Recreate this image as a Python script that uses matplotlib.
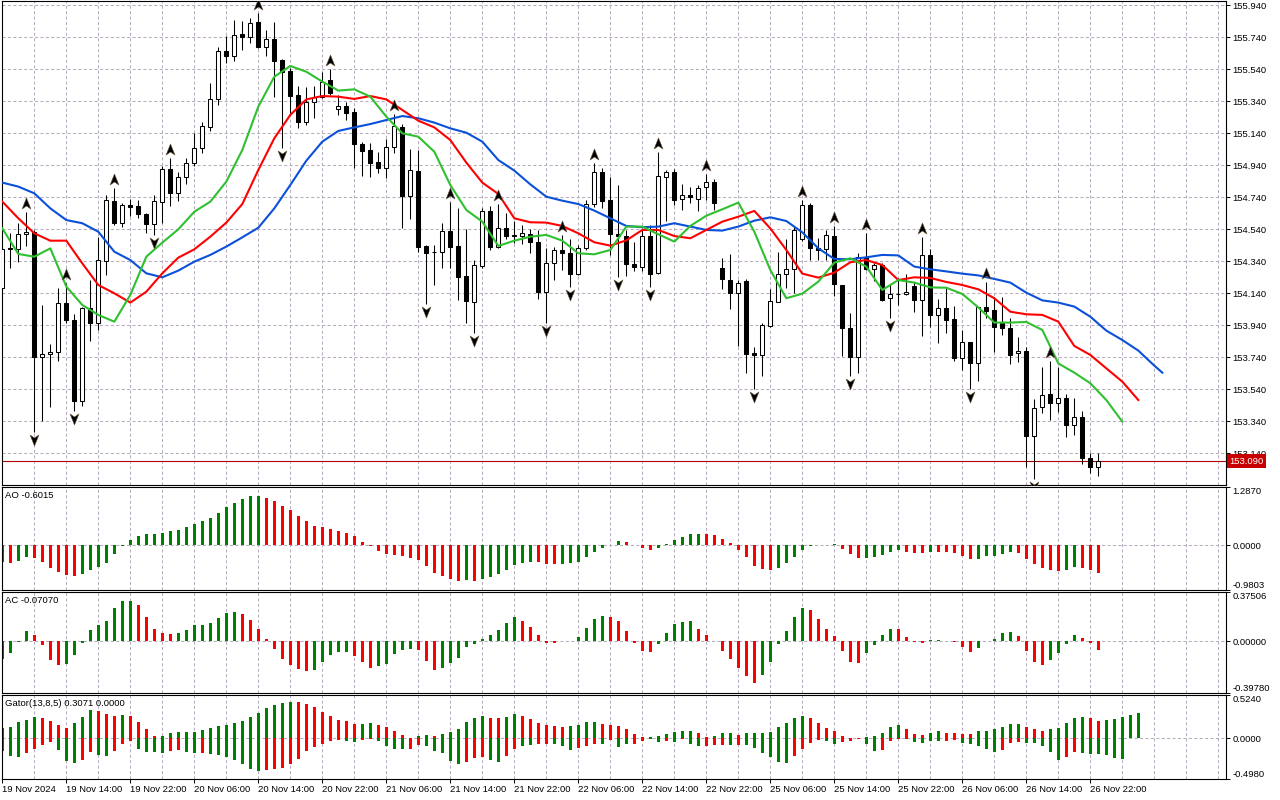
import numpy as np
import matplotlib
matplotlib.use("Agg")
import matplotlib.pyplot as plt
from matplotlib.path import Path
from matplotlib.transforms import blended_transform_factory

# hourly USDJPY-like candles, 19 Nov 06:00 .. 26 Nov 23:00
opens = [154.171, 154.423, 154.415, 154.509, 154.521, 153.744, 153.759, 153.771, 154.077, 153.973,
         153.469, 154.046, 153.952, 154.344, 154.717, 154.582, 154.692, 154.684, 154.634, 154.571,
         154.713, 154.915, 154.769, 154.865, 154.952, 155.046, 155.182, 155.352, 155.655, 155.625,
         155.761, 155.744, 155.834, 155.682, 155.728, 155.598, 155.530, 155.380, 155.213, 155.334,
         155.365, 155.473, 155.290, 155.311, 155.271, 155.073, 155.036, 154.959, 154.921, 155.052,
         155.182, 154.750, 154.905, 154.436, 154.396, 154.396, 154.530, 154.436, 154.248, 154.088,
         154.313, 154.655, 154.432, 154.546, 154.500, 154.496, 154.511, 154.459, 154.150, 154.327,
         154.411, 154.390, 154.258, 154.421, 154.698, 154.896, 154.723, 154.509, 154.498, 154.323,
         154.307, 154.498, 154.265, 154.869, 154.900, 154.728, 154.755, 154.730, 154.802, 154.834,
         154.296, 154.223, 154.144, 154.217, 153.765, 153.755, 153.936, 154.088, 154.261, 154.290,
         154.477, 154.692, 154.421, 154.415, 154.498, 154.192, 153.921, 153.744, 154.369, 154.290,
         154.317, 154.108, 154.133, 154.133, 154.186, 154.098, 154.377, 154.005, 154.046, 153.977,
         153.734, 153.834, 153.707, 154.052, 154.036, 153.963, 153.925, 153.765, 153.780, 153.250,
         153.427, 153.509, 153.452, 153.484, 153.317, 153.365, 153.109, 153.057]
highs = [154.432, 154.515, 154.577, 154.650, 154.536, 154.067, 153.823, 154.171, 154.202, 154.011,
         154.052, 154.223, 154.494, 154.755, 154.796, 154.707, 154.728, 154.723, 154.644, 154.755,
         154.936, 154.988, 154.900, 154.984, 155.140, 155.213, 155.452, 155.682, 155.750, 155.848,
         155.842, 155.859, 155.890, 155.786, 155.834, 155.603, 155.546, 155.436, 155.427, 155.436,
         155.525, 155.540, 155.380, 155.338, 155.296, 155.088, 155.077, 155.025, 155.102, 155.261,
         155.198, 155.042, 155.036, 154.442, 154.442, 154.582, 154.713, 154.671, 154.540, 154.348,
         154.671, 154.686, 154.698, 154.640, 154.594, 154.565, 154.540, 154.536, 154.421, 154.432,
         154.505, 154.477, 154.442, 154.723, 154.957, 154.921, 154.865, 154.817, 154.536, 154.463,
         154.536, 154.567, 155.025, 154.911, 154.915, 154.823, 154.802, 154.817, 154.886, 154.852,
         154.359, 154.386, 154.223, 154.227, 153.803, 153.957, 154.165, 154.396, 154.477, 154.557,
         154.723, 154.702, 154.484, 154.536, 154.561, 154.192, 154.015, 154.390, 154.519, 154.327,
         154.332, 154.192, 154.234, 154.261, 154.213, 154.490, 154.415, 154.102, 154.171, 154.061,
         153.911, 153.838, 154.057, 154.213, 154.119, 154.119, 153.984, 153.869, 153.807, 153.477,
         153.682, 153.719, 153.682, 153.509, 153.484, 153.407, 153.140, 153.144]
lows = [154.161, 154.296, 154.338, 154.436, 153.275, 153.344, 153.432, 153.719, 153.957, 153.407,
        153.436, 153.844, 153.911, 154.255, 154.567, 154.557, 154.623, 154.609, 154.515, 154.505,
        154.582, 154.688, 154.719, 154.821, 154.938, 155.015, 155.157, 155.317, 155.577, 155.594,
        155.661, 155.707, 155.675, 155.625, 155.369, 155.046, 155.255, 155.175, 155.192, 155.234,
        155.359, 155.380, 155.255, 155.223, 154.921, 154.873, 154.869, 154.890, 154.859, 155.019,
        154.550, 154.605, 154.400, 154.073, 154.192, 154.300, 154.296, 154.098, 153.957, 153.890,
        154.296, 154.411, 154.421, 154.477, 154.452, 154.446, 154.390, 154.102, 153.952, 154.223,
        154.286, 154.177, 154.255, 154.411, 154.682, 154.671, 154.380, 154.244, 154.250, 154.282,
        154.282, 154.182, 154.261, 154.594, 154.692, 154.661, 154.702, 154.657, 154.723, 154.661,
        154.165, 154.040, 153.811, 153.644, 153.540, 153.623, 153.932, 154.084, 154.171, 154.144,
        154.469, 154.348, 154.348, 154.348, 154.123, 153.748, 153.623, 153.640, 154.286, 154.219,
        154.094, 153.988, 154.067, 154.129, 154.025, 153.875, 153.932, 153.832, 153.894, 153.719,
        153.661, 153.540, 153.594, 153.984, 153.775, 153.880, 153.698, 153.713, 153.057, 152.977,
        153.394, 153.348, 153.400, 153.244, 153.255, 153.073, 153.019, 152.998]
closes = [154.415, 154.419, 154.509, 154.521, 153.744, 153.759, 153.773, 154.077, 153.973, 153.469,
          154.046, 153.957, 154.348, 154.723, 154.582, 154.692, 154.677, 154.634, 154.571, 154.717,
          154.915, 154.765, 154.865, 154.952, 155.046, 155.186, 155.352, 155.655, 155.625, 155.755,
          155.744, 155.827, 155.682, 155.728, 155.594, 155.525, 155.375, 155.213, 155.334, 155.365,
          155.463, 155.394, 155.313, 155.269, 155.071, 155.032, 154.957, 154.921, 155.052, 155.186,
          154.750, 154.911, 154.432, 154.394, 154.398, 154.530, 154.432, 154.244, 154.094, 154.317,
          154.655, 154.432, 154.546, 154.500, 154.502, 154.515, 154.459, 154.150, 154.327, 154.411,
          154.390, 154.258, 154.421, 154.698, 154.896, 154.719, 154.509, 154.498, 154.321, 154.307,
          154.498, 154.261, 154.873, 154.896, 154.723, 154.755, 154.740, 154.796, 154.834, 154.702,
          154.227, 154.144, 154.202, 153.761, 153.755, 153.940, 154.092, 154.261, 154.290, 154.536,
          154.692, 154.421, 154.411, 154.505, 154.196, 153.921, 153.744, 154.369, 154.290, 154.317,
          154.098, 154.133, 154.135, 154.150, 154.098, 154.377, 154.005, 154.046, 153.973, 153.734,
          153.834, 153.707, 154.052, 154.030, 153.932, 153.921, 153.755, 153.780, 153.250, 153.421,
          153.505, 153.457, 153.484, 153.317, 153.365, 153.109, 153.053, 153.090]
bid = 153.090

fractal_up = [3, 8, 14, 21, 32, 41, 49, 56, 62, 70, 74, 82, 88, 100, 104, 108, 115, 123, 131]
fractal_down = [4, 9, 19, 35, 53, 59, 68, 71, 77, 81, 94, 106, 111, 121, 129]

# alligator, read every second bar (jaw also at its last bar 145)
jaw_bars = list(range(0, 145, 2)) + [145]
jaw = [154.832, 154.807, 154.765, 154.671, 154.598, 154.578, 154.525, 154.400, 154.348, 154.265,
       154.240, 154.282, 154.338, 154.380, 154.432, 154.490, 154.550, 154.671, 154.817, 154.969,
       155.088, 155.155, 155.177, 155.198, 155.223, 155.248, 155.234, 155.207, 155.171, 155.144,
       155.088, 154.973, 154.907, 154.821, 154.744, 154.719, 154.698, 154.657, 154.609, 154.561,
       154.553, 154.557, 154.578, 154.557, 154.536, 154.532, 154.557, 154.594, 154.615, 154.592,
       154.521, 154.421, 154.355, 154.353, 154.365, 154.380, 154.377, 154.307, 154.290, 154.277,
       154.263, 154.252, 154.230, 154.207, 154.144, 154.096, 154.082, 154.057, 153.994, 153.907,
       153.848, 153.782, 153.688, 153.644]
teeth_bars = list(range(0, 143, 2))
teeth = [154.713, 154.609, 154.515, 154.469, 154.469, 154.327, 154.192, 154.140, 154.082, 154.150,
         154.265, 154.363, 154.415, 154.494, 154.582, 154.698, 154.911, 155.109, 155.255, 155.352,
         155.373, 155.369, 155.355, 155.373, 155.352, 155.286, 155.219, 155.177, 155.098, 154.957,
         154.832, 154.761, 154.609, 154.584, 154.582, 154.561, 154.515, 154.459, 154.438, 154.471,
         154.536, 154.536, 154.498, 154.484, 154.536, 154.588, 154.619, 154.655, 154.546, 154.411,
         154.263, 154.238, 154.269, 154.334, 154.348, 154.317, 154.223, 154.240, 154.236, 154.211,
         154.192, 154.165, 154.109, 154.025, 154.009, 154.005, 153.963, 153.811, 153.755, 153.671,
         153.588, 153.473]
lips_bars = list(range(0, 141, 2))
lips = [154.546, 154.386, 154.369, 154.421, 154.182, 154.067, 154.005, 153.963, 154.130, 154.369,
        154.457, 154.540, 154.650, 154.713, 154.838, 155.036, 155.307, 155.494, 155.561, 155.525,
        155.463, 155.407, 155.415, 155.369, 155.244, 155.140, 155.119, 155.025, 154.817, 154.661,
        154.588, 154.436, 154.469, 154.494, 154.505, 154.469, 154.390, 154.384, 154.411, 154.557,
        154.557, 154.509, 154.463, 154.561, 154.625, 154.665, 154.707, 154.525, 154.286, 154.109,
        154.138, 154.213, 154.332, 154.359, 154.307, 154.161, 154.223, 154.207, 154.177, 154.175,
        154.136, 154.052, 153.957, 153.957, 153.961, 153.911, 153.702, 153.644, 153.578, 153.473,
        153.338]

ao = [-0.36, -0.38, -0.34, -0.25, -0.27, -0.36, -0.49, -0.58, -0.65, -0.67,
      -0.62, -0.53, -0.47, -0.38, -0.19, -0.01, 0.12, 0.21, 0.25, 0.255,
      0.28, 0.32, 0.34, 0.40, 0.48, 0.54, 0.60, 0.71, 0.84, 0.93,
      1.02, 1.09, 1.095, 1.04, 0.98, 0.87, 0.78, 0.65, 0.54, 0.43,
      0.40, 0.36, 0.32, 0.28, 0.21, 0.08, -0.02, -0.12, -0.18, -0.21,
      -0.23, -0.27, -0.32, -0.455, -0.602, -0.668, -0.742, -0.778, -0.764, -0.778,
      -0.742, -0.698, -0.624, -0.543, -0.433, -0.382, -0.367, -0.372, -0.404, -0.41,
      -0.405, -0.382, -0.36, -0.25, -0.147, -0.059, 0.02, 0.095, 0.073, 0.0,
      -0.059, -0.103, -0.059, 0.03, 0.117, 0.19, 0.25, 0.252, 0.248, 0.22,
      0.14, 0.059, -0.103, -0.25, -0.455, -0.521, -0.543, -0.492, -0.396, -0.25,
      -0.103, -0.005, 0.003, 0.02, 0.025, -0.088, -0.198, -0.272, -0.268, -0.25,
      -0.206, -0.14, -0.095, -0.14, -0.162, -0.165, -0.14, -0.145, -0.15, -0.162,
      -0.235, -0.294, -0.29, -0.242, -0.235, -0.184, -0.154, -0.162, -0.294, -0.404,
      -0.499, -0.536, -0.558, -0.536, -0.485, -0.499, -0.536, -0.6015]
ao_dir = ("dduud" + "d" * 5 + "u" * 23 + "d" * 20 +
          "d" * 5 + "u" + "d" + "u" * 7 + "d" * 3 + "u" * 8 + "d" * 4 + "u" * 6 + "d" * 9 + "u" * 8 +
          "ddd" + "u" * 5 + "ddd" + "u" + "d" * 5 + "u" * 5 + "d" * 6 + "uu" + "ddd")

ac = [-0.138, -0.094, -0.008, 0.079, 0.048, -0.033, -0.148, -0.186, -0.176, -0.11,
      -0.015, 0.087, 0.12, 0.156, 0.255, 0.309, 0.31, 0.278, 0.181, 0.094,
      0.059, 0.057, 0.064, 0.087, 0.12, 0.122, 0.135, 0.173, 0.212, 0.219,
      0.209, 0.163, 0.094, 0.018, -0.059, -0.135, -0.181, -0.212, -0.227, -0.219,
      -0.158, -0.11, -0.082, -0.081, -0.112, -0.163, -0.204, -0.194, -0.179, -0.102,
      -0.071, -0.059, -0.071, -0.156, -0.224, -0.209, -0.171, -0.133, -0.046, -0.026,
      0.015, 0.048, 0.087, 0.138, 0.184, 0.153, 0.11, 0.048, -0.013, -0.018,
      -0.002, 0.0, 0.033, 0.1, 0.171, 0.194, 0.184, 0.156, 0.079, -0.015,
      -0.079, -0.084, -0.026, 0.064, 0.133, 0.148, 0.153, 0.094, 0.048, -0.003,
      -0.079, -0.138, -0.209, -0.27, -0.324, -0.263, -0.163, -0.026, 0.079, 0.186,
      0.253, 0.24, 0.171, 0.094, 0.038, -0.079, -0.163, -0.165, -0.094, -0.033,
      0.048, 0.094, 0.092, 0.033, -0.01, -0.015, 0.008, 0.009, 0.002, -0.01,
      -0.048, -0.087, -0.054, -0.002, 0.018, 0.064, 0.071, 0.041, -0.079, -0.163,
      -0.186, -0.148, -0.094, -0.026, 0.046, 0.023, -0.018, -0.0707]
ac_dir = ("u" * 4 + "d" * 4 + "u" * 9 + "d" * 5 + "u" * 8 + "d" * 9 + "u" * 5 + "d" * 3 + "u" * 5 + "d" +
          "dd" + "u" * 10 + "d" * 5 + "u" * 6 + "d" * 6 + "u" * 5 + "d" * 8 + "u" * 6 + "d" * 4 +
          "ddd" + "u" * 4 + "d" * 4 + "uu" + "d" * 4 + "u" * 5 + "d" * 4 + "u" * 4 + "ddd")

gator_up = [0.122, 0.138, 0.191, 0.223, 0.260, 0.247, 0.211, 0.162, 0.126, 0.187,
            0.260, 0.345, 0.333, 0.296, 0.272, 0.284, 0.272, 0.199, 0.114, 0.028,
            0.030, 0.065, 0.077, 0.078, 0.079, 0.101, 0.126, 0.150, 0.162, 0.187,
            0.211, 0.260, 0.308, 0.369, 0.406, 0.430, 0.442, 0.440, 0.418, 0.381,
            0.320, 0.272, 0.223, 0.211, 0.174, 0.176, 0.178, 0.162, 0.138, 0.089,
            0.041, 0.004, 0.028, 0.041, 0.028, 0.053, 0.077, 0.114, 0.199, 0.247,
            0.272, 0.247, 0.245, 0.251, 0.288, 0.264, 0.227, 0.178, 0.154, 0.142,
            0.140, 0.143, 0.154, 0.191, 0.192, 0.166, 0.154, 0.142, 0.105, 0.053,
            0.008, 0.015, 0.020, 0.045, 0.069, 0.085, 0.087, 0.061, 0.010, 0.028,
            0.057, 0.058, 0.041, 0.057, 0.058, 0.065, 0.075, 0.130, 0.178, 0.239,
            0.264, 0.239, 0.178, 0.118, 0.081, 0.028, 0.006, 0.002, 0.008, 0.020,
            0.065, 0.130, 0.154, 0.105, 0.053, 0.032, 0.065, 0.081, 0.065, 0.063,
            0.053, 0.051, 0.081, 0.083, 0.105, 0.130, 0.166, 0.168, 0.130, 0.105,
            0.081, 0.105, 0.118, 0.178, 0.239, 0.251, 0.239, 0.203, 0.215, 0.227,
            0.251, 0.276, 0.3071]
gator_up_dir = ("u" * 5 + "d" * 4 + "u" * 3 + "d" * 3 + "u" + "d" * 4 + "u" * 17 + "d" * 8 + "u" * 2 +
                "d" * 5 + "u" * 2 + "d" + "u" * 6 + "d" * 2 + "u" * 2 + "d" * 6 + "u" * 4 + "d" * 6 +
                "u" * 6 + "d" * 2 + "u" * 3 + "d" + "u" * 8 + "d" * 7 + "u" * 5 + "d" * 3 + "u" * 2 +
                "d" * 4 + "u" * 6 + "d" * 3 + "u" * 5 + "d" * 2 + "u" * 5)
gator_down = [-0.162, -0.215, -0.235, -0.187, -0.130, -0.081, -0.045, -0.142, -0.276, -0.308,
              -0.264, -0.166, -0.203, -0.223, -0.154, -0.069, -0.032, -0.130, -0.166, -0.168,
              -0.178, -0.154, -0.142, -0.166, -0.187, -0.187, -0.188, -0.211, -0.235, -0.272,
              -0.320, -0.381, -0.406, -0.393, -0.381, -0.369, -0.320, -0.260, -0.162, -0.114,
              -0.077, -0.041, -0.028, -0.041, -0.053, -0.028, -0.012, -0.041, -0.101, -0.130,
              -0.132, -0.130, -0.081, -0.101, -0.154, -0.178, -0.276, -0.320, -0.288, -0.239,
              -0.227, -0.264, -0.288, -0.219, -0.134, -0.097, -0.085, -0.077, -0.073, -0.075,
              -0.097, -0.146, -0.122, -0.097, -0.073, -0.075, -0.020, -0.109, -0.073, -0.073,
              -0.036, -0.010, -0.049, -0.032, -0.049, -0.010, -0.073, -0.097, -0.095, -0.085,
              -0.083, -0.086, -0.084, -0.090, -0.122, -0.182, -0.231, -0.292, -0.304, -0.223,
              -0.134, -0.065, -0.024, -0.032, -0.073, -0.045, -0.032, -0.016, -0.073, -0.158,
              -0.142, -0.032, -0.012, -0.010, -0.045, -0.061, -0.032, -0.032, -0.032, -0.024,
              -0.061, -0.073, -0.097, -0.134, -0.170, -0.142, -0.061, -0.049, -0.061, -0.063,
              -0.097, -0.170, -0.264, -0.231, -0.170, -0.182, -0.195, -0.196, -0.211, -0.243,
              -0.255]
gator_down_dir = ("u" * 3 + "d" * 4 + "u" * 3 + "d" * 2 + "u" * 2 + "d" * 3 + "u" * 4 + "d" * 2 + "u" * 2 +
                  "d" + "u" * 7 + "d" * 10 + "u" * 2 + "d" * 2 + "u" * 4 + "d" * 2 + "u" * 5 + "d" * 3 +
                  "u" * 2 + "d" * 2 + "u" * 2 + "d" * 2 + "u" * 3 + "d" * 3 + "u" + "d" + "u" * 2 + "d" * 2 +
                  "u" * 2 + "d" + "u" + "d" + "u" * 2 + "d" * 3 + "u" + "d" + "u" * 6 + "d" * 4 + "u" * 2 +
                  "d" * 3 + "u" * 2 + "d" * 4 + "u" * 4 + "d" * 2 + "u" * 5 + "d" * 3 + "u" * 5 + "d" * 2 +
                  "u" * 6)

price_ticks = [153.14, 153.34, 153.54, 153.74, 153.94, 154.14, 154.34, 154.54,
               154.74, 154.94, 155.14, 155.34, 155.54, 155.74, 155.94]
date_labels = ["19 Nov 2024", "19 Nov 14:00", "19 Nov 22:00", "20 Nov 06:00", "20 Nov 14:00",
               "20 Nov 22:00", "21 Nov 06:00", "21 Nov 14:00", "21 Nov 22:00", "22 Nov 06:00",
               "22 Nov 14:00", "22 Nov 22:00", "25 Nov 06:00", "25 Nov 14:00", "25 Nov 22:00",
               "26 Nov 06:00", "26 Nov 14:00", "26 Nov 22:00"]

plt.rcParams["font.family"] = ["Liberation Sans", "DejaVu Sans"]
plt.rcParams["font.size"] = 6.8

GREEN = "#008000"
RED = "#ff0000"
GRID = "#b9adc0"
FS = 6.8
W, H = 1280, 800
fig = plt.figure(figsize=(12.8, 8), dpi=100)
fig.patch.set_facecolor("white")


def panel(top, bottom):
    a = fig.add_axes([2 / W, 1 - bottom / H, 1224 / W, (bottom - top) / H])
    a.set_xlim(-0.04, 152.96)
    for s in a.spines.values():
        s.set_linewidth(0.8)
        s.set_color("black")
    a.yaxis.tick_right()
    a.tick_params(axis="y", direction="out", length=3, width=0.7, pad=1.5, labelsize=FS)
    a.tick_params(axis="x", length=0, labelbottom=False)
    for gx in range(4, 153, 4):
        a.axvline(gx, color=GRID, lw=0.75, dashes=(3, 2.2), zorder=0)
    return a


ax = panel(1, 485)
ao_ax = panel(487, 590)
ac_ax = panel(592, 693)
gt_ax = panel(695, 779)

# ---- main chart
x = np.arange(len(opens))
o = np.array(opens)
c = np.array(closes)
ax.set_ylim(152.942, 155.967)
for p in price_ticks:
    ax.axhline(p, color=GRID, lw=0.75, dashes=(3, 2.2), zorder=0)
ax.set_yticks(price_ticks)
ax.set_yticklabels(["%.3f" % p for p in price_ticks])
ax.axhline(bid, color="#b40000", lw=0.8, zorder=2)

ax.vlines(x, lows, highs, color="black", lw=0.75, zorder=3)
body_lo = np.minimum(o, c)
body_h = np.maximum(np.abs(c - o), 0.002)
ax.bar(x, body_h, bottom=body_lo, width=0.5,
       color=["white" if cc >= oo else "black" for oo, cc in zip(o, c)],
       edgecolor="black", linewidth=0.75, zorder=4)

ax.plot(jaw_bars, jaw, color="#0a50d8", lw=1.5, zorder=5)
ax.plot(teeth_bars, teeth, color="#ff0000", lw=1.5, zorder=5)
ax.plot(lips_bars, lips, color="#2fc02f", lw=1.5, zorder=5)

up_arrow = Path([(0, 1), (0.8, -1), (0, -0.45), (-0.8, -1), (0, 1)],
                [Path.MOVETO, Path.LINETO, Path.LINETO, Path.LINETO, Path.CLOSEPOLY])
down_arrow = Path([(0, -1), (0.8, 1), (0, 0.45), (-0.8, 1), (0, -1)],
                  [Path.MOVETO, Path.LINETO, Path.LINETO, Path.LINETO, Path.CLOSEPOLY])
ax.plot(fractal_up, [highs[i] + 0.056 for i in fractal_up], ls="none", marker=up_arrow,
        ms=8, color="black", mec="#6a5a40", mew=0.4, zorder=6)
ax.plot(fractal_down, [lows[i] - 0.05 for i in fractal_down], ls="none", marker=down_arrow,
        ms=8, color="black", mec="#6a5a40", mew=0.4, zorder=6)

tr = blended_transform_factory(ax.transAxes, ax.transData)
ax.text(1.0025, bid, "153.090", transform=tr, color="white", ha="left", va="center",
        fontsize=FS, zorder=10, clip_on=False,
        bbox=dict(boxstyle="square,pad=0.25", fc="#c80000", ec="none"))


def osc_panel(a, top, bottom, fmt, name):
    a.set_ylim(bottom, top)
    a.axhline(0, color=GRID, lw=0.75, dashes=(3, 2.2), zorder=0)
    a.set_yticks([top, 0, bottom])
    a.set_yticklabels([fmt % top, fmt % 0, fmt % bottom])
    labs = a.get_yticklabels()
    labs[0].set_verticalalignment("top")
    labs[2].set_verticalalignment("bottom")
    a.annotate(name, xy=(0, 1), xycoords="axes fraction", xytext=(3, -4),
               textcoords="offset pixels", ha="left", va="top", fontsize=FS)


def colors(d):
    return [GREEN if ch == "u" else RED for ch in d]


ao_ax.bar(np.arange(len(ao)), ao, width=0.45, color=colors(ao_dir), lw=0, zorder=2)
osc_panel(ao_ax, 1.2870, -0.9803, "%.4f", "AO %.4f" % ao[-1])

ac_ax.bar(np.arange(len(ac)), ac, width=0.45, color=colors(ac_dir), lw=0, zorder=2)
osc_panel(ac_ax, 0.37506, -0.39780, "%.5f", "AC %.5f" % ac[-1])

gt_ax.bar(np.arange(len(gator_up)), gator_up, width=0.45, color=colors(gator_up_dir), lw=0, zorder=2)
gt_ax.bar(np.arange(len(gator_down)), gator_down, width=0.45, color=colors(gator_down_dir), lw=0, zorder=2)
osc_panel(gt_ax, 0.5240, -0.4980, "%.4f", "Gator(13,8,5) %.4f 0.0000" % gator_up[-1])

gt_ax.set_xticks(np.arange(0, 8 * len(date_labels), 8))
gt_ax.set_xticklabels(date_labels, ha="left")
gt_ax.tick_params(axis="x", length=3, width=0.7, direction="out", pad=1, labelbottom=True, labelsize=FS)

fig.savefig("out.png", dpi=100, facecolor="white")
